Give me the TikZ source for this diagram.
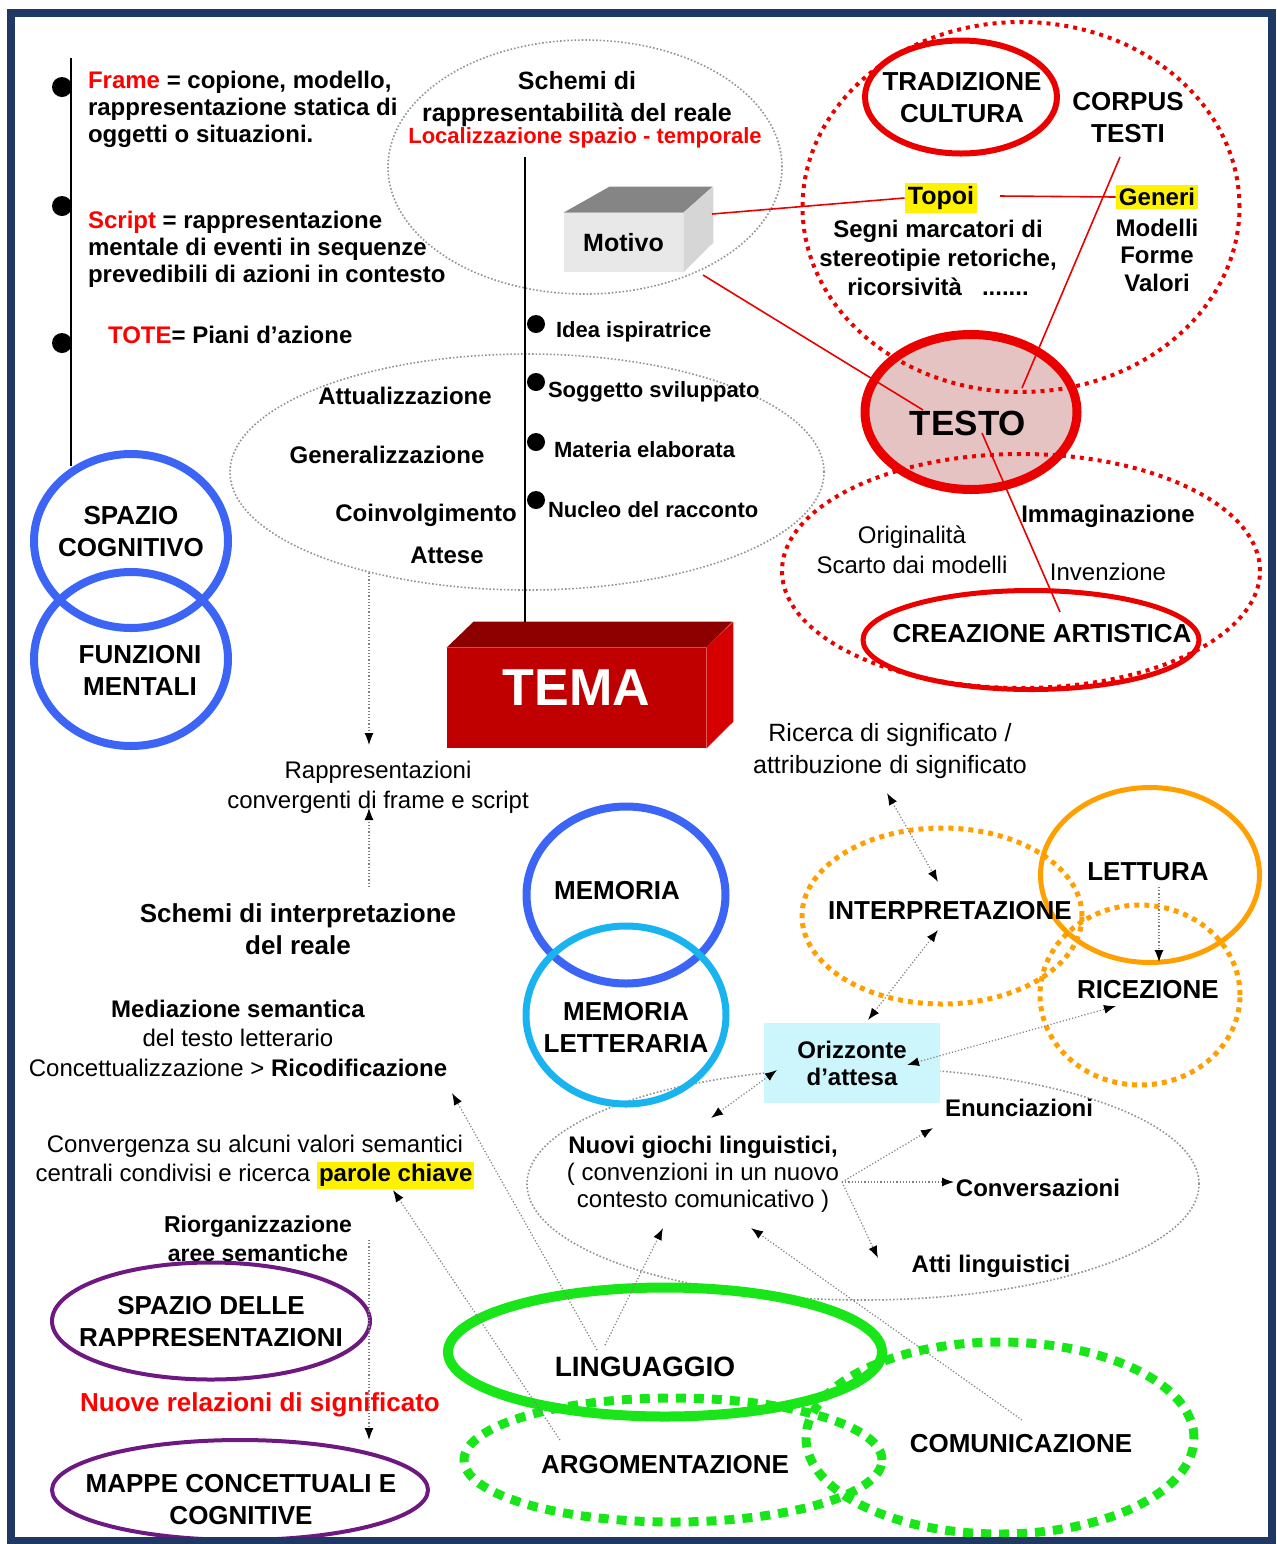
\documentclass[tikz,border=0pt]{standalone}
\usepackage{fontspec}
\setmainfont{Liberation Sans}
\usetikzlibrary{shapes.geometric,arrows.meta}
\definecolor{bordo}{RGB}{31,56,100}
\definecolor{rosso}{RGB}{235,0,0}
\definecolor{blu}{RGB}{60,100,245}
\definecolor{azzurro}{RGB}{25,180,240}
\definecolor{arancio}{RGB}{255,160,0}
\definecolor{verde}{RGB}{25,230,25}
\definecolor{viola}{RGB}{110,25,130}
\definecolor{ciano}{RGB}{204,245,252}
\definecolor{rosa}{RGB}{230,195,195}
\definecolor{temafronte}{RGB}{192,0,0}
\definecolor{tematop}{RGB}{140,0,0}
\definecolor{temalato}{RGB}{215,0,0}

\begin{document}
\begin{tikzpicture}[
    x=0.5pt, y=-0.5pt, % 1 px = 0,5 pt, y vers le bas
    >={Latex[length=6pt,width=4.5pt,color=black]},
    % Textes
    etichetta/.style={font=\bfseries\fontsize{12}{13.5}\selectfont, align=center},
    piccola/.style={font=\bfseries\fontsize{11}{13}\selectfont, anchor=west},
    titolo/.style={font=\bfseries\fontsize{13}{16}\selectfont, align=center},
    normale/.style={font=\fontsize{12}{15}\selectfont, align=center},
    % Ovales
    ovale/.style={ellipse, inner sep=0pt},
    grigio/.style={ovale, draw=gray!85, densely dotted, line width=0.8pt},
    rossopunti/.style={ovale, draw=rosso, line width=2pt, dash pattern=on 2pt off 2.5pt},
    arancipunti/.style={ovale, draw=arancio, line width=2.5pt, dash pattern=on 2.5pt off 2.5pt},
    verdipunti/.style={ovale, draw=verde, line width=4.5pt, dash pattern=on 5pt off 4pt},
    puntino/.style={circle, fill=black, inner sep=0pt, minimum size=9pt},
    % Liens
    freccia/.style={draw=gray, densely dotted, line width=0.6pt},
    filo/.style={draw=rosso, line width=0.8pt}
]
\useasboundingbox (0,0) rectangle (1276,1544);

% Ovales de fond
\node[grigio, minimum width=197pt, minimum height=127pt] (schemi-ell) at (585,167) {};
\node[grigio, minimum width=297pt, minimum height=118pt] (media-ell) at (527,472) {};
\node[grigio, minimum width=336pt, minimum height=116pt] (giochi-ell) at (863,1184) {};
\node[ovale, draw=rosso, fill=rosa, line width=4.5pt, minimum width=106pt, minimum height=77.5pt] (testo) at (971,412) {};
\node[rossopunti, minimum width=218.5pt, minimum height=185pt] (sfera-testi) at (1021,207) {};
\node[rossopunti, minimum width=239pt, minimum height=117pt] (sfera-creaz) at (1021,571) {};
\node[ovale, draw=rosso, line width=3pt, minimum width=96pt, minimum height=56.5pt] (tradizione) at (961,97) {};
\node[ovale, draw=rosso, line width=2.5pt, minimum width=168pt, minimum height=49.5pt] (creazione) at (1031,640) {};
\node[ovale, draw=blu, line width=4pt, minimum width=97pt, minimum height=87pt] (spazio) at (131,541) {};
\node[ovale, draw=blu, line width=4pt, minimum width=97pt, minimum height=87pt] (funzioni) at (131,659) {};
\node[ovale, draw=blu, line width=4pt, minimum width=99.5pt, minimum height=88.5pt] (memoria) at (626,895) {};
\node[ovale, draw=azzurro, line width=3.5pt, minimum width=100pt, minimum height=89pt] (memlett) at (626,1015) {};
\node[arancipunti, minimum width=140pt, minimum height=88pt] (interpr) at (942,916) {};
\node[ovale, draw=arancio, line width=2.5pt, minimum width=109.5pt, minimum height=87.5pt] (lettura) at (1150,875) {};
\node[arancipunti, minimum width=100pt, minimum height=90pt] (ricezione) at (1140,995) {};
\node[ovale, draw=viola, line width=2pt, minimum width=159pt, minimum height=58.5pt] (spaziorapp) at (211,1321) {};
\node[ovale, draw=viola, line width=2pt, minimum width=188pt, minimum height=50pt] (mappe) at (240,1490) {};
\node[ovale, draw=verde, line width=5pt, minimum width=217pt, minimum height=64.5pt] (linguaggio) at (665,1352) {};
\node[verdipunti, minimum width=209pt, minimum height=62pt] (argoment) at (673,1460) {};
\node[verdipunti, minimum width=194pt, minimum height=96pt] (comunic) at (1000,1438) {};

% Boites 3D
\node[fill=black!9, inner sep=0pt, minimum width=59.5pt, minimum height=29.5pt,
      font=\bfseries\fontsize{12.5}{14}\selectfont] (motivo) at (623.5,242.5) {Motivo};
\fill[black!48] (motivo.north west) -- ++(46,-26) -- ++(103,0) -- (motivo.north east) -- cycle;
\fill[black!16] (motivo.north east) -- ++(30,-26) -- ++(0,56) -- (motivo.south east) -- cycle;
\node[fill=temafronte, inner sep=0pt, minimum width=129.5pt, minimum height=50pt, text=white,
      font=\bfseries\fontsize{26}{28}\selectfont, text depth=10pt] (tema) at (576.5,698) {TEMA};
\fill[tematop] (tema.north west) -- ++(27,-26) -- ++(259,0) -- (tema.north east) -- cycle;
\fill[temalato] (tema.north east) -- ++(27,-26) -- ++(0,100) -- (tema.south east) -- cycle;
\node[fill=ciano, inner sep=0pt, minimum width=88pt, minimum height=40pt, etichetta] (orizzonte) at (852,1063) {Orizzonte\\d’attesa};

% Colonne de gauche
\coordinate (linea-su) at (71,58);
\draw[line width=1pt] (linea-su) -- (linea-su |- spazio.127);
\node[puntino, minimum size=10pt] (p-frame) at (62,87) {};
\node[puntino, minimum size=10pt] (p-script) at (62,206) {};
\node[puntino, minimum size=10pt] (p-tote) at (62,343) {};
\node[etichetta, anchor=west, align=left] (frame) at (81,109) {\textcolor{red}{Frame} = copione, modello,\\rappresentazione statica di\\oggetti o situazioni.};
\node[etichetta, anchor=west, align=left] (script) at (81,249) {\textcolor{red}{Script} = rappresentazione\\mentale di eventi in sequenze\\prevedibili di azioni in contesto};
\node[etichetta, anchor=west] (tote) at (101,335) {\textcolor{red}{TOTE}= Piani d’azione};

% Axe central
\coordinate (asse-su) at (525,157);
\coordinate (asse-giu) at (525,622);
\draw[line width=1pt] (asse-su) -- (asse-giu);
\node[puntino] (p-idea) at (536,324) {};
\node[puntino] (p-soggetto) at (536,382) {};
\node[puntino] (p-materia) at (536,442) {};
\node[puntino] (p-nucleo) at (536,500) {};
\node[piccola] (idea) at (549,332) {Idea ispiratrice};
\node[piccola] (soggetto) at (541,392) {Soggetto sviluppato};
\node[piccola] (materia) at (547,450) {Materia elaborata};
\node[piccola] (nucleo) at (541,510) {Nucleo del racconto};

% Textes du haut
\node[font=\bfseries\fontsize{12.5}{16}\selectfont, align=center] (schemi-rap) at (577,99) {Schemi di\\rappresentabilità del reale};
\node[font=\bfseries\fontsize{11}{13}\selectfont, text=red] (localizz) at (585,138) {Localizzazione spazio - temporale};
\node[titolo] (tradizione-t) at (962,98) {TRADIZIONE\\CULTURA};
\node[titolo] (corpus) at (1128,118) {CORPUS\\TESTI};
\node[etichetta, fill=yellow, inner sep=1.5pt, font=\bfseries\fontsize{12.5}{14}\selectfont] (topoi) at (941,198) {Topoi};
\node[etichetta, font=\bfseries\fontsize{12}{14.5}\selectfont] (segni) at (938,258) {Segni marcatori di\\stereotipie retoriche,\\ricorsività\ \ \ .......};
\node[etichetta, fill=yellow, inner sep=1.5pt] (generi) at (1157,197) {Generi};
\node[etichetta, font=\bfseries\fontsize{12}{13.75}\selectfont] (modelli) at (1157,255) {Modelli\\Forme\\Valori};
\node[font=\bfseries\fontsize{17.5}{20}\selectfont] (testo-t) at (968,423) {TESTO};
\node[etichetta] (immaginaz) at (1108,516) {Immaginazione};
\node[normale] (originalita) at (912,550) {Originalità\\Scarto dai modelli};
\node[normale] (invenzione) at (1108,572) {Invenzione};
\node[titolo] (creazione-t) at (1042,634) {CREAZIONE ARTISTICA};

% Ovale central
\node[etichetta] (attualizz) at (405,396) {Attualizzazione};
\node[etichetta] (generalizz) at (387,455) {Generalizzazione};
\node[etichetta] (coinvolg) at (426,515) {Coinvolgimento};
\node[etichetta] (attese) at (447,555) {Attese};
\node[titolo] (spazio-t) at (131,532) {SPAZIO\\COGNITIVO};
\node[titolo] (funzioni-t) at (140,670) {FUNZIONI\\MENTALI};

% Milieu
\node[normale] (rapp) at (378,787) {Rappresentazioni\\convergenti di frame e script};
\node[titolo] (schemi-int) at (298,929) {Schemi di interpretazione\\del reale};
\node[titolo] (memoria-t) at (617,891) {MEMORIA};
\node[titolo] (memlett-t) at (626,1027) {MEMORIA\\LETTERARIA};
\node[font=\fontsize{12.5}{16}\selectfont, align=center] (ricerca) at (890,751) {Ricerca di significato /\\attribuzione di significato};
\node[titolo] (interpr-t) at (950,911) {INTERPRETAZIONE};
\node[titolo] (lettura-t) at (1148,872) {LETTURA};
\node[titolo] (ricezione-t) at (1148,990) {RICEZIONE};

% Bas gauche
\node[font=\fontsize{12}{14.75}\selectfont, align=center] (mediazione) at (238,1038) {\textbf{Mediazione semantica}\\del testo letterario\\Concettualizzazione > \textbf{Ricodificazione}};
\node[font=\fontsize{12}{14.5}\selectfont, align=center] (convergenza) at (255,1162) {Convergenza su alcuni valori semantici\\centrali condivisi e ricerca {\setlength{\fboxsep}{1pt}\colorbox{yellow}{\bfseries parole chiave}}};
\node[font=\bfseries\fontsize{11.5}{14.5}\selectfont, align=center] (riorganizz) at (258,1239) {Riorganizzazione\\aree semantiche};
\node[titolo] (spaziorapp-t) at (211,1322) {SPAZIO DELLE\\RAPPRESENTAZIONI};
\node[titolo, text=red] (nuove-rel) at (260,1405) {Nuove relazioni di significato};
\node[titolo] (mappe-t) at (241,1500) {MAPPE CONCETTUALI E\\COGNITIVE};

% Bas droite
\node[font=\fontsize{12}{13.5}\selectfont, align=center] (nuovi) at (703,1174) {\textbf{Nuovi giochi linguistici,}\\( convenzioni in un nuovo\\contesto comunicativo )};
\node[etichetta] (enunciaz) at (1019,1108) {Enunciazioni};
\node[etichetta] (conversaz) at (1038,1188) {Conversazioni};
\node[etichetta] (atti) at (991,1266) {Atti linguistici};
\node[font=\bfseries\fontsize{14}{16}\selectfont] (linguaggio-t) at (645,1367) {LINGUAGGIO};
\node[titolo] (argoment-t) at (665,1465) {ARGOMENTAZIONE};
\node[titolo] (comunic-t) at (1021,1444) {COMUNICAZIONE};

% Fils rouges
\coordinate (motivo-dx) at (712,214);
\coordinate (motivo-giu) at (703,275);
\coordinate (topoi-dx) at (1000,196);
\coordinate (corpus-giu) at (1120,157);
\coordinate (testo-su) at (1022,388);
\coordinate (testo-in) at (923,410);
\coordinate (testo-giu) at (982,433);
\coordinate (creaz-su) at (1060,612);
\draw[filo] (motivo-dx) -- (topoi.west);
\draw[filo] (topoi-dx) -- (generi.west);
\draw[filo] (motivo-giu) -- (testo-in);
\draw[filo] (corpus-giu) -- (testo-su);
\draw[filo] (testo-giu) -- (creaz-su);

% Flèches pointillées
\coordinate (attese-giu) at (369,573);
\coordinate (rapp-su) at (369,745);
\coordinate (schemi-su) at (369,887);
\coordinate (rapp-giu) at (369,808);
\coordinate (riorg-giu) at (369,1240);
\coordinate (mappe-su) at (369,1440);
\coordinate (ricerca-giu) at (887,793);
\coordinate (interpr-su) at (938,882);
\coordinate (orizz-su) at (868,1020);
\coordinate (interpr-giu) at (938,930);
\coordinate (orizz-dx) at (907,1065);
\coordinate (ricez-sx) at (1116,1006);
\coordinate (lett-giu) at (1159,887);
\coordinate (ricez-su) at (1159,962);
\coordinate (nuovi-su) at (711,1118);
\coordinate (orizz-sx) at (777,1070);
\coordinate (nuovi-dx) at (842,1182);
\coordinate (enunc-sx) at (933,1128);
\coordinate (conv-sx) at (954,1182);
\coordinate (atti-sx) at (878,1258);
\coordinate (ling-su) at (605,1345);
\coordinate (nuovi-giu) at (663,1228);
\coordinate (comun-su) at (1022,1420);
\coordinate (nuovi-giu2) at (751,1228);
\coordinate (ling-su2) at (597,1350);
\coordinate (ricod) at (452,1093);
\coordinate (argom-su) at (560,1440);
\coordinate (parole) at (393,1190);
\draw[freccia, ->] (attese-giu) -- (rapp-su);
\draw[freccia, ->] (schemi-su) -- (rapp-giu);
\draw[freccia, ->] (riorg-giu) -- (mappe-su);
\draw[freccia, <->] (ricerca-giu) -- (interpr-su);
\draw[freccia, <->] (orizz-su) -- (interpr-giu);
\draw[freccia, <->] (orizz-dx) -- (ricez-sx);
\draw[freccia, ->] (lett-giu) -- (ricez-su);
\draw[freccia, <->] (nuovi-su) -- (orizz-sx);
\draw[freccia, ->] (nuovi-dx) -- (enunc-sx);
\draw[freccia, ->] (nuovi-dx) -- (conv-sx);
\draw[freccia, ->] (nuovi-dx) -- (atti-sx);
\draw[freccia, ->] (ling-su) -- (nuovi-giu);
\draw[freccia, ->] (comun-su) -- (nuovi-giu2);
\draw[freccia, ->] (ling-su2) -- (ricod);
\draw[freccia, ->] (argom-su) -- (parole);

% Cadre
\draw[bordo, line width=4pt] (11,13) rectangle (1272,1541);
\end{tikzpicture}
\end{document}
